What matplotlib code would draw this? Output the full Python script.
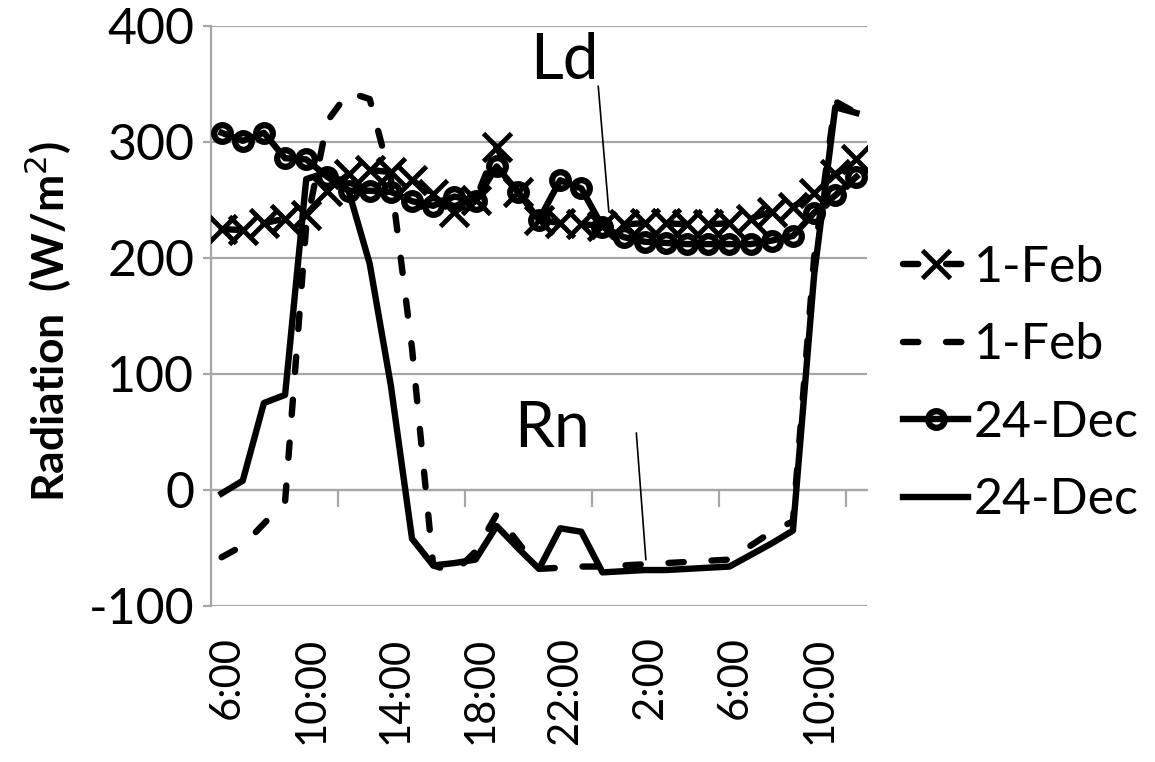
import matplotlib
matplotlib.use("Agg")
import matplotlib.pyplot as plt
import matplotlib.transforms as mtransforms
import numpy as np

plt.rcParams["font.family"] = ["Lato", "DejaVu Sans"]
plt.rcParams["lines.scale_dashes"] = False
plt.rcParams["axes.unicode_minus"] = False

# hourly readings, 6:00 through 12:00 the next day
hours = list(range(31))
tick_pos = [0, 4, 8, 12, 16, 20, 24, 28]
tick_labels = ["6:00", "10:00", "14:00", "18:00", "22:00", "2:00", "6:00", "10:00"]

# incoming longwave radiation Ld (W/m2)
ld_feb = [225, 224, 230, 234, 237, 258, 272, 276, 274, 267, 255, 240, 250, 296, 257,
          233, 230, 229, 228, 229, 230, 230, 229, 229, 230, 234, 240, 244, 256, 272, 285]
ld_dec = [308, 301, 308, 286, 285, 270, 258, 258, 257, 249, 245, 253, 249, 279, 257,
          233, 267, 260, 227, 218, 214, 213, 212, 212, 212, 212, 215, 219, 239, 254, 270]

# net radiation Rn (W/m2)
rn_feb = [-58, -48, -29, -10, 228, 318, 343, 337, 268, 122, -65, -71, -53, -21, -45,
          -68, -67, -66, -66, -65, -64, -63, -62, -61, -60, -48, -36, -27, 200, 335, 325]
rn_dec = [-3, 8, 75, 82, 268, 274, 258, 195, 90, -42, -65, -63, -60, -31, -50,
          -68, -33, -36, -71, -70, -69, -69, -68, -67, -66, -56, -46, -35, 185, 330, 325]

series_labels = ["1-Feb", "1-Feb", "24-Dec", "24-Dec"]

W, H = 1155, 762
fig = plt.figure(figsize=(W / 100, H / 100), dpi=100)
ax = fig.add_axes([211 / W, 1 - 606 / H, (867 - 211) / W, (606 - 26) / H])

grid_c = "#a6a6a6"
lw = 4.6
dash = (0, (11, 20))

ax.plot(hours, ld_feb, color="black", lw=lw, ls=dash, dash_capstyle="round",
        marker="x", ms=20, mew=3.5, label=series_labels[0], zorder=3)
ax.plot(hours, rn_feb, color="black", lw=lw, ls=dash, dash_capstyle="round",
        label=series_labels[1], zorder=3)
ax.plot(hours, ld_dec, color="black", lw=lw, solid_joinstyle="round",
        marker="o", ms=12, mew=4.5, mfc="none", mec="black",
        label=series_labels[2], zorder=4)
ax.plot(hours, rn_dec, color="black", lw=lw, solid_joinstyle="round",
        label=series_labels[3], zorder=4)

ax.set_xlim(-0.5, 30.5)
ax.set_ylim(-100, 400)
ax.set_yticks([-100, 0, 100, 200, 300, 400])
ax.grid(axis="y", color=grid_c, lw=1.6)
ax.set_axisbelow(True)

for s in ("top", "right"):
    ax.spines[s].set_visible(False)
ax.spines["left"].set_color(grid_c)
ax.spines["left"].set_linewidth(1.6)

# category axis line crosses at zero, tick marks every 6 hours
ax.spines["bottom"].set_position(("data", 0))
ax.spines["bottom"].set_color(grid_c)
ax.spines["bottom"].set_linewidth(1.6)
ax.set_xticks([5.5, 11.5, 17.5, 23.5, 29.5])
ax.tick_params(axis="x", direction="out", length=12, width=1.6, color=grid_c,
               labelbottom=False)
ax.tick_params(axis="y", direction="out", length=6, width=1.6, color=grid_c,
               labelsize=36, pad=6)

# hour labels along the bottom of the plot
sec = ax.secondary_xaxis("bottom")
sec.set_xticks(tick_pos, tick_labels)
sec.tick_params(length=0, labelsize=30, pad=22, labelrotation=90)
sec.spines["bottom"].set_visible(False)
nudge = mtransforms.ScaledTranslation(5 / 100, 0, fig.dpi_scale_trans)
for lab in sec.get_xticklabels():
    lab.set_transform(lab.get_transform() + nudge)

fig.text(0.042, 0.578, "Radiation  (W/m$^2$)", rotation=90, fontsize=32,
         fontweight="bold", ha="center", va="center")

ax.text(16.2, 370, "Ld", fontsize=46, ha="center", va="center")
ax.plot([17.8, 18.3], [348, 240], color="black", lw=1.2, zorder=5)
ax.text(15.6, 53, "Rn", fontsize=46, ha="center", va="center")
ax.plot([19.6, 20.05], [49, -60], color="black", lw=1.2, zorder=5)

ax.legend(loc="center left", bbox_to_anchor=(903 / W, 1 - 384 / H),
          bbox_transform=fig.transFigure, frameon=False, fontsize=36,
          handlelength=1.3, handletextpad=0.12, labelspacing=0.63,
          borderaxespad=0, borderpad=0, numpoints=1)

fig.savefig("out.png", dpi=100, facecolor="white")
